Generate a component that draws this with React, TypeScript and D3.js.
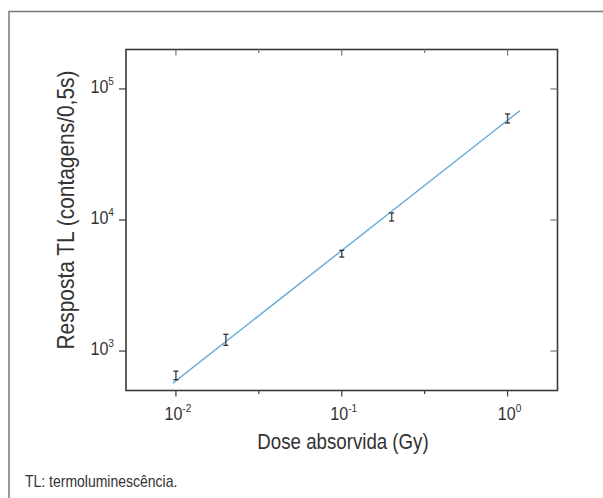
import React from "react";
import * as d3 from "d3";

const doses = [0.01, 0.02, 0.1, 0.2, 1];
const responses = [652, 1220, 5530, 10550, 59500];
const errLow = [604, 1106, 5212, 9825, 54950];
const errHigh = [703, 1342, 5867, 11315, 64400];
const fitDose = [0.0096, 1.19];
const fitResponse = [570, 68500];

const xMajorTicks = [0.01, 0.1, 1];
const xMajorExp = ["-2", "-1", "0"];
const xMinorTicks = [0.0316, 0.316];
const yMajorTicks = [1000, 10000, 100000];
const yMajorExp = ["3", "4", "5"];
const xDomain = [0.005, 2];
const yDomain = [500, 200000];

const xTitle = "Dose absorvida (Gy)";
const yTitle = "Resposta TL (contagens/0,5s)";
const footnote = "TL: termoluminescência.";

const W = 603;
const H = 498;
const M = { left: 126, right: 557.5, top: 49.5, bottom: 390.5 };
const FONT = "'Liberation Sans', Arial, Helvetica, sans-serif";
const TXT = "#333";

export default function App() {
  const x = d3.scaleLog().domain(xDomain).range([M.left, M.right]);
  const y = d3.scaleLog().domain(yDomain).range([M.bottom, M.top]);
  const line = d3
    .line<number>()
    .x((_, i) => x(fitDose[i]))
    .y((d) => y(d));

  const axisCol = "#3a3a3a";
  return (
    <svg
      width={W}
      height={H}
      style={{ position: "absolute", left: 0, top: 0, background: "#fff" }}
      fontFamily={FONT}
    >
      <rect x={0} y={0} width={W} height={H} fill="#fff" />
      {/* outer frame */}
      <path d={`M9,${H} V11.5 H${W}`} fill="none" stroke="#7a7a7a" strokeWidth={1.5} />

      {/* fit line */}
      <path d={line(fitResponse) || ""} fill="none" stroke="#6aafdc" strokeWidth={1.5} />

      {/* error bars */}
      {doses.map((d, i) => {
        const cx = x(d);
        const y0 = y(errLow[i]);
        const y1 = y(errHigh[i]);
        return (
          <g key={i} data-value={responses[i]}>
            <line x1={cx} x2={cx} y1={y0} y2={y1} stroke="#555" strokeWidth={1.5} />
            <line x1={cx - 2.5} x2={cx + 2.5} y1={y0} y2={y0} stroke="#222" strokeWidth={1.2} />
            <line x1={cx - 2.5} x2={cx + 2.5} y1={y1} y2={y1} stroke="#222" strokeWidth={1.2} />
          </g>
        );
      })}

      {/* plot box */}
      <rect
        x={M.left}
        y={M.top}
        width={M.right - M.left}
        height={M.bottom - M.top}
        fill="none"
        stroke={axisCol}
        strokeWidth={1.6}
      />

      {/* x ticks */}
      {xMajorTicks.map((t, i) => (
        <g key={"xm" + i}>
          <line x1={x(t)} x2={x(t)} y1={M.bottom} y2={M.bottom + 6} stroke={axisCol} strokeWidth={1.2} />
          <line x1={x(t)} x2={x(t)} y1={M.top} y2={M.top + 6} stroke="#777" strokeWidth={1.2} />
          <g transform={`translate(${x(t) + 2},${M.bottom + 29.5}) scale(0.92,1)`}>
            <text x={0} y={0} textAnchor="middle" fill={TXT} fontSize={17.5}>
              10
              <tspan dy={-8} fontSize={11}>
                {xMajorExp[i]}
              </tspan>
            </text>
          </g>
        </g>
      ))}
      {xMinorTicks.map((t, i) => (
        <g key={"xn" + i}>
          <line x1={x(t)} x2={x(t)} y1={M.bottom} y2={M.bottom + 3.5} stroke={axisCol} strokeWidth={1.2} />
          <line x1={x(t)} x2={x(t)} y1={M.top} y2={M.top + 3.5} stroke="#777" strokeWidth={1.2} />
        </g>
      ))}

      {/* y ticks */}
      {yMajorTicks.map((t, i) => (
        <g key={"ym" + i}>
          <line x1={M.left - 7} x2={M.left} y1={y(t)} y2={y(t)} stroke={axisCol} strokeWidth={1.2} />
          <line x1={M.right - 7} x2={M.right} y1={y(t)} y2={y(t)} stroke="#777" strokeWidth={1.2} />
          <g transform={`translate(${M.left - 12},${y(t) + 4}) scale(0.92,1)`}>
            <text x={0} y={0} textAnchor="end" fill={TXT} fontSize={17.5}>
              10
              <tspan dy={-8} fontSize={11}>
                {yMajorExp[i]}
              </tspan>
            </text>
          </g>
        </g>
      ))}

      {/* titles */}
      <g transform={`translate(343,449) scale(0.85,1)`}>
        <text x={0} y={0} textAnchor="middle" fill={TXT} fontSize={22}>
          {xTitle}
        </text>
      </g>
      <g transform={`translate(74,210) rotate(-90) scale(0.91,1)`}>
        <text x={0} y={0} textAnchor="middle" fill={TXT} fontSize={23}>
          {yTitle}
        </text>
      </g>
      <g transform={`translate(25,487) scale(0.875,1)`}>
        <text x={0} y={0} fill={TXT} fontSize={16}>
          {footnote}
        </text>
      </g>
    </svg>
  );
}
